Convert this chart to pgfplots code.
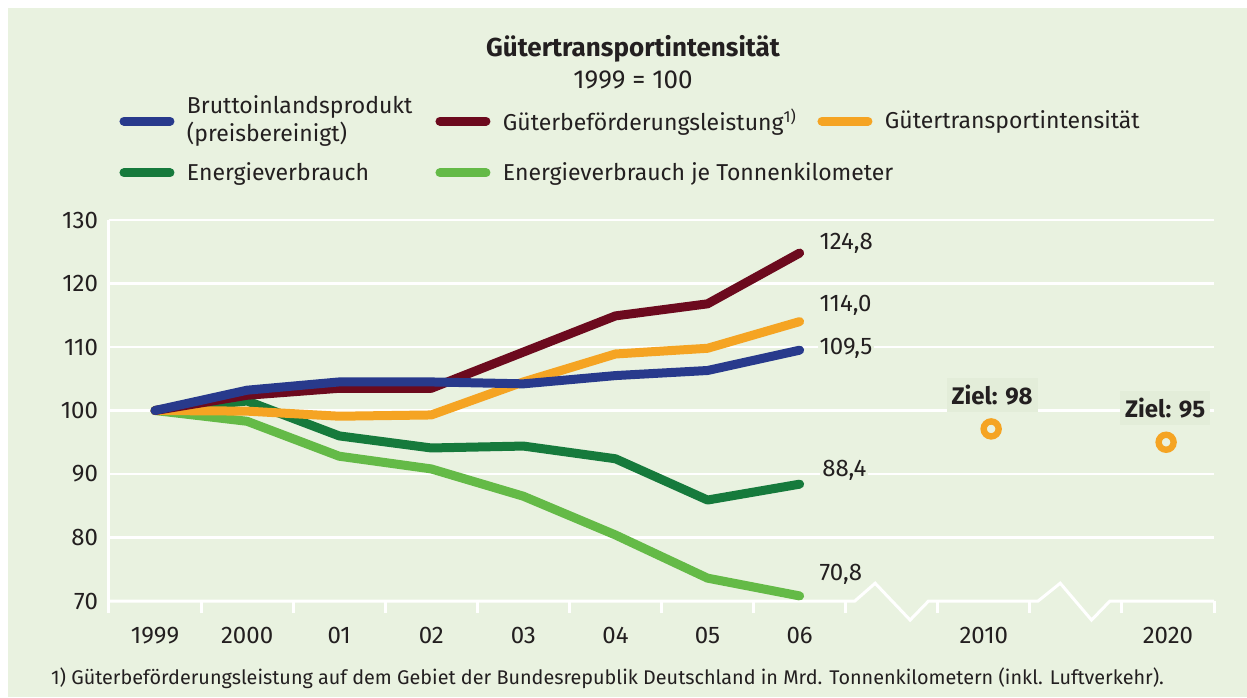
\documentclass[border=0pt]{standalone}
\usepackage{fontspec}
\setmainfont{Fira Sans}
\usepackage{pgfplots}
\pgfplotsset{compat=1.18}

\definecolor{bg}{HTML}{E9F2E0}
\definecolor{boxbg}{HTML}{E3EDD9}
\definecolor{cblue}{HTML}{283A8C}
\definecolor{cred}{HTML}{6C0A1E}
\definecolor{corange}{HTML}{F5A423}
\definecolor{cdgreen}{HTML}{167A3C}
\definecolor{clgreen}{HTML}{64BA47}
\definecolor{txt}{HTML}{231F20}

\begin{document}
\begin{tikzpicture}[x=1pt,y=1pt]
\path[use as bounding box] (0,0) rectangle (623.5,348.5);
\fill[bg] (4,0) rectangle (623.5,344.5);
\node[anchor=base, font=\bfseries\fontsize{13}{15}\selectfont, text=txt] at (316.5,320) {Gütertransportintensität};
\node[anchor=base, font=\fontsize{13}{15}\selectfont, text=txt] at (316.5,304) {1999 = 100};
\node[anchor=west, font=\fontsize{9.9}{11}\selectfont, text=txt] at (22,9.5) {1) Güterbeförderungsleistung auf dem Gebiet der Bundesrepublik Deutschland in Mrd. Tonnenkilometern (inkl. Luftverkehr).};
\begin{axis}[
  at={(54.5pt,48pt)}, anchor=south west,
  scale only axis, width=552.5pt, height=190.5pt,
  xmin=-0.5, xmax=11.5, ymin=70, ymax=130,
  clip=false,
  axis y line*=left, y axis line style={white, line width=1.5pt},
  axis x line*=bottom, x axis line style={draw=none},
  ytick={80,90,...,130}, extra y ticks={70}, extra y tick style={grid=none},
  ymajorgrids, major grid style={white, line width=1.3pt},
  y tick style={draw=none},
  major tick length=0pt,
  xtick={0,1,2,3,4,5,6,7,9,11},
  xticklabels={1999,2000,01,02,03,04,05,06,2010,2020},
  x tick style={draw=none},
  extra x ticks={-0.5,0.5,1.5,2.5,3.5,4.5,5.5,6.5,7.5,8.5,9.5,10.5,11.5},
  extra x tick labels={},
  extra x tick style={major tick length=6pt, tick align=outside, x tick style={draw=white, line width=1.5pt}},
  tick label style={font=\fontsize{12}{14}\selectfont, text=txt},
  /pgf/number format/assume math mode=true,
  xticklabel style={yshift=-9.5pt},
  yticklabel style={xshift=-2pt},
  legend columns=3,
  legend cell align=left,
  legend image code/.code={\draw[#1] (0pt,0pt) -- (23pt,0pt); \path (-2.25pt,0pt) (25.25pt,0pt);},
  legend style={draw=none, fill=none, inner sep=0pt, outer sep=0pt,
    nodes={inner sep=0pt, text=txt, font=\fontsize{11.5}{13.5}\selectfont},
    at={(0.0054,1.328)}, anchor=north west, row sep=7.5pt,
    /tikz/every odd column/.append style={column sep=4pt}},
]
\addlegendimage{cblue, line width=4.5pt, line cap=round}
\addlegendentry{\makebox[122pt][l]{\raisebox{8pt}{\begin{tabular}{@{}l@{}}Bruttoinlandsprodukt\\(preisbereinigt)\end{tabular}}}}
\addlegendimage{cred, line width=4.5pt, line cap=round}
\addlegendentry{\makebox[155pt][l]{Güterbeförderungsleistung\textsuperscript{1)}}}
\addlegendimage{corange, line width=4.5pt, line cap=round}
\addlegendentry{Gütertransportintensität}
\addlegendimage{cdgreen, line width=4.5pt, line cap=round}
\addlegendentry{\makebox[122pt][l]{Energieverbrauch}}
\addlegendimage{clgreen, line width=4.5pt, line cap=round}
\addlegendentry{\makebox[155pt][l]{Energieverbrauch je Tonnenkilometer}}

% broken x axis line
\addplot[white, line width=1.5pt, forget plot] coordinates {(-0.5,70)(7.60,70)(7.82,72.8)(8.20,67.0)(8.40,70)(9.59,70)(9.83,72.8)(10.17,67.0)(10.37,70)(11.5,70)};

\addplot[clgreen, line width=4.5pt, line cap=round, line join=round, forget plot] coordinates {(0,100)(1,98.3)(2,92.8)(3,90.8)(4,86.5)(5,80.4)(6,73.6)(7,70.8)};
\addplot[cdgreen, line width=4.5pt, line cap=round, line join=round, forget plot] coordinates {(0,100)(1,101.5)(2,96.0)(3,94.1)(4,94.4)(5,92.4)(6,85.9)(7,88.4)};
\addplot[corange, line width=4.5pt, line cap=round, line join=round, forget plot] coordinates {(0,100)(1,99.9)(2,99.1)(3,99.3)(4,104.5)(5,108.9)(6,109.8)(7,114.0)};
\addplot[cred, line width=4.5pt, line cap=round, line join=round, forget plot] coordinates {(0,100)(1,102.4)(2,103.5)(3,103.5)(4,109.2)(5,114.9)(6,116.8)(7,124.8)};
\addplot[cblue, line width=4.5pt, line cap=round, line join=round, forget plot] coordinates {(0,100)(1,103.2)(2,104.5)(3,104.5)(4,104.2)(5,105.5)(6,106.3)(7,109.5)};

% targets
\node[fill=boxbg, font=\bfseries\fontsize{12}{14}\selectfont, text=txt, inner xsep=2.5pt, inner ysep=3.5pt] at (axis cs:9.09,102.4) {Ziel: 98};
\node[fill=boxbg, font=\bfseries\fontsize{12}{14}\selectfont, text=txt, inner xsep=2.5pt, inner ysep=3.5pt] at (axis cs:10.97,100.4) {Ziel: 95};
\addplot[only marks, mark=o, mark size=3.75pt, corange, line width=3.2pt, forget plot] coordinates {(9.08,97.1)(10.98,95.0)};

% end values
\begin{scope}[every node/.style={anchor=west, fill=bg, inner sep=1pt, text=txt, font=\fontsize{12}{14}\selectfont}]
\node at (axis cs:7.19,126.4) {124,8};
\node at (axis cs:7.19,116.5) {114,0};
\node at (axis cs:7.19,109.8) {109,5};
\node at (axis cs:7.22,90.5) {88,4};
\node at (axis cs:7.19,74.2) {70,8};
\end{scope}
\end{axis}
\end{tikzpicture}
\end{document}
